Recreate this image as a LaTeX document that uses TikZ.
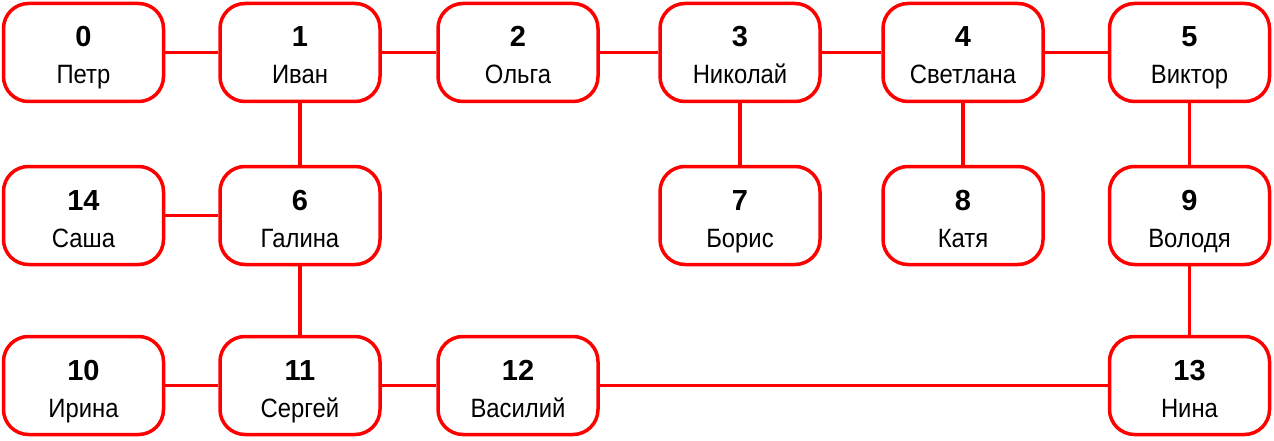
\documentclass[tikz,border=0pt]{standalone}
\usepackage{fontspec}
\setmainfont{Liberation Sans}
\newfontfamily\namefont[FakeStretch=0.9]{Liberation Sans}
\begin{document}
\begin{tikzpicture}[x=1pt,y=-1pt,
  person/.style={draw=red, line width=3.5pt, rounded corners=25pt, fill=white,
    minimum width=160pt, minimum height=98pt, inner sep=0pt, align=center,
    font=\namefont\fontsize{26.5}{37}\selectfont},
  link/.style={draw=red, line width=3.5pt}]
\useasboundingbox (0,0) rectangle (1274,441);
\newcommand{\pp}[2]{\rule{0pt}{32pt}{\normalfont\fontsize{29}{37}\selectfont\bfseries #1}\\#2\rule[-6pt]{0pt}{6pt}}
% row 1
\node[person] (n0) at (83.5,52.5) {\pp{0}{Петр}};
\node[person] (n1) at (300,52.5) {\pp{1}{Иван}};
\node[person] (n2) at (518,52.5) {\pp{2}{Ольга}};
\node[person] (n3) at (740,52.5) {\pp{3}{Николай}};
\node[person] (n4) at (963,52.5) {\pp{4}{Светлана}};
\node[person] (n5) at (1189.5,52.5) {\pp{5}{Виктор}};
% row 2
\node[person] (n14) at (83.5,215.5) {\pp{14}{Саша}};
\node[person] (n6) at (300,215.5) {\pp{6}{Галина}};
\node[person] (n7) at (740,215.5) {\pp{7}{Борис}};
\node[person] (n8) at (963,215.5) {\pp{8}{Катя}};
\node[person] (n9) at (1189.5,215.5) {\pp{9}{Володя}};
% row 3
\node[person] (n10) at (83.5,385.5) {\pp{10}{Ирина}};
\node[person] (n11) at (300,385.5) {\pp{11}{Сергей}};
\node[person] (n12) at (518,385.5) {\pp{12}{Василий}};
\node[person] (n13) at (1189.5,385.5) {\pp{13}{Нина}};
% links
\draw[link] (n0) -- (n1);
\draw[link] (n1) -- (n2);
\draw[link] (n2) -- (n3);
\draw[link] (n3) -- (n4);
\draw[link] (n4) -- (n5);
\draw[link] (n1) -- (n6);
\draw[link] (n3) -- (n7);
\draw[link] (n4) -- (n8);
\draw[link] (n5) -- (n9);
\draw[link] (n14) -- (n6);
\draw[link] (n6) -- (n11);
\draw[link] (n10) -- (n11);
\draw[link] (n11) -- (n12);
\draw[link] (n12) -- (n13);
\draw[link] (n9) -- (n13);
\end{tikzpicture}
\end{document}
